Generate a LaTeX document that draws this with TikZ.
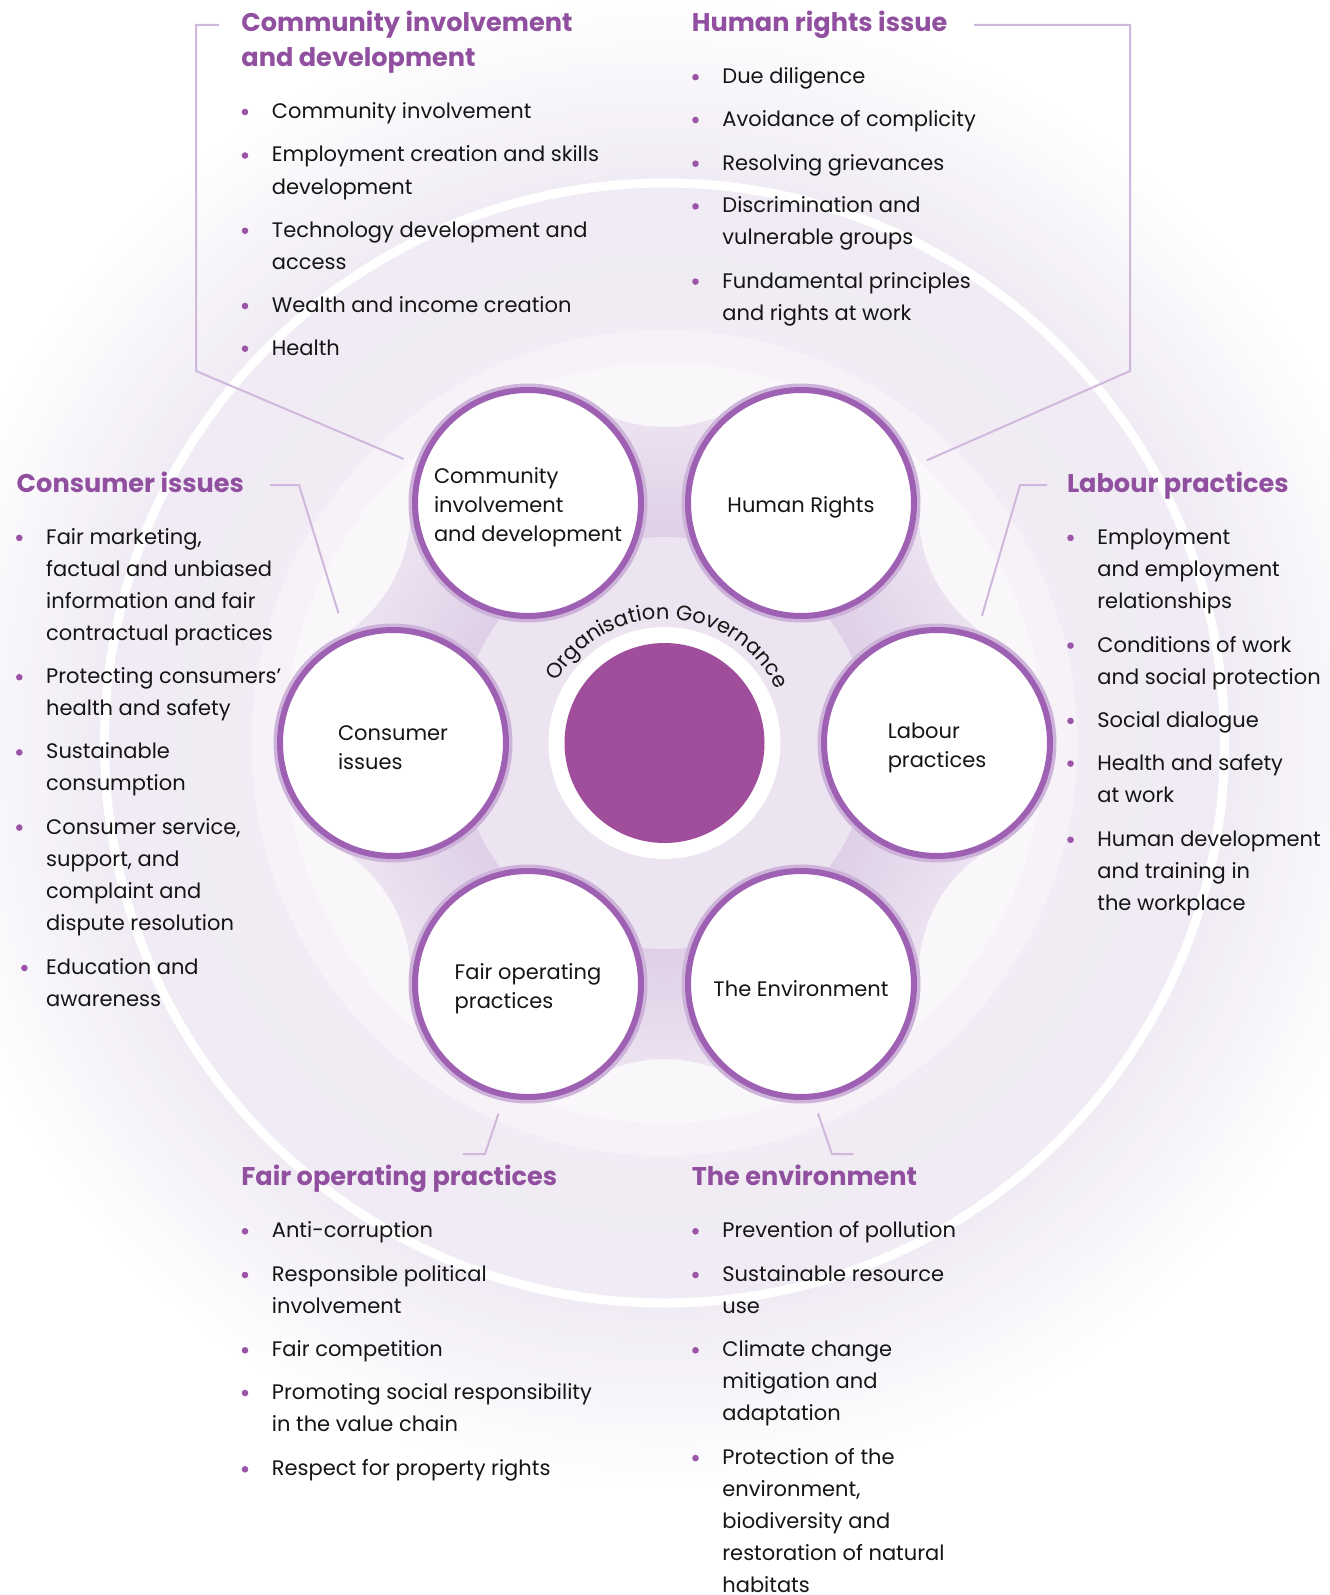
\documentclass[tikz,border=0pt]{standalone}
\usepackage{fontspec}
\setmainfont{Poppins}
\usetikzlibrary{decorations.text,calc}
\definecolor{headc}{HTML}{91509F}
\definecolor{bulletc}{HTML}{9A55A6}
\definecolor{textc}{HTML}{151515}
\definecolor{connc}{HTML}{D0B8DC}
\definecolor{discc}{HTML}{A04E9C}
\definecolor{ringc}{HTML}{9E60B2}
\definecolor{haloc}{HTML}{CDB3D9}
\definecolor{glowc}{HTML}{F0EBF4}
\definecolor{glowin}{HTML}{F3EFF6}
\definecolor{bandA}{HTML}{F6F2F8}
\definecolor{bandB}{HTML}{F9F7FA}
\definecolor{blobin}{HTML}{DFCFE7}
\definecolor{blobout}{HTML}{EEE6F2}
\definecolor{centerc}{HTML}{ECE4F0}
\pgfdeclareradialshading{glowshade}{\pgfpoint{0bp}{0bp}}{color(0bp)=(glowin); color(18bp)=(glowc); color(24bp)=(white); color(25bp)=(white); color(50bp)=(white)}
\pgfdeclareradialshading{blobshade}{\pgfpoint{0bp}{0bp}}{color(0bp)=(blobin); color(15bp)=(blobin); color(25bp)=(blobout); color(50bp)=(blobout)}
\newcommand{\li}[4]{%
  \fill[bulletc] (#2-26.5,#3-4) circle (3.3);
  \node[item] (#1) at (#2,#3-20) {\rule{0pt}{11pt}#4};}
\newcommand{\tstrut}{\rule{0pt}{12.5pt}}
\begin{document}
\begin{tikzpicture}[x=0.5pt,y=-0.5pt,
  item/.style={anchor=north west, inner sep=0pt, align=left, text=textc, font=\fontsize{10.5}{16.05}\selectfont},
  head/.style={anchor=north west, inner sep=0pt, align=left, text=headc, font=\bfseries\fontsize{12.8}{17.25}\selectfont},
  topic/.style={circle, minimum size=113pt, inner sep=0pt, fill=white, draw=ringc, line width=3pt,
    preaction={draw=haloc, line width=6.5pt}, align=left, text=textc, font=\fontsize{10.5}{14.5}\selectfont},
  conn/.style={draw=connc, line width=1pt}]
\useasboundingbox (0,0) rectangle (1329,1595);
\fill[white] (0,0) rectangle (1329,1595);
\coordinate (C) at (664.5,743);
% background glow and bands
\shade[shading=glowshade] (C) circle (780);
\fill[bandA] (C) circle (413);
\fill[bandB] (C) circle (380);
\draw[white, line width=4.5pt] (C) circle (560);
% blob joining the circles
\begin{scope}[even odd rule]
  \clip (-200,-200) rectangle (1600,1800)
    (664.5,282) circle (145) (664.5,1204) circle (145)
    (1063.7,512.5) circle (145) (265.3,512.5) circle (145)
    (1063.7,973.5) circle (145) (265.3,973.5) circle (145);
  \shade[shading=blobshade] (C) circle (345);
\end{scope}
\fill[centerc] (C) circle (206);
% topic circles
\node[topic] (comm) at (528,503) {\tstrut Community\\involvement\\and development};
\node[topic] (hr) at (801,503) {\tstrut Human Rights};
\node[topic] (cons) at (393,743) {\tstrut Consumer\\issues};
\node[topic] (lab) at (937,743) {\tstrut Labour\\practices};
\node[topic] (fair) at (528,984) {\tstrut Fair operating\\practices};
\node[topic] (env) at (801,984) {\tstrut The Environment};
% centre
\fill[white] (C) circle (116);
\node[circle, fill=discc, minimum size=100pt, inner sep=0pt] (gov) at (C) {};
\path[decorate, decoration={text along path, text align=center,
  text={|\fontsize{10.5}{11}\selectfont\color{textc}|Organisation Governance}}]
  (C) ++(-178:124) arc[start angle=-178, end angle=2, radius=124];
% connectors
\coordinate (kcomm) at (196,371); \coordinate (ecomm) at (219,25);
\coordinate (khr) at (1130,371); \coordinate (ehr) at (974,25);
\coordinate (kcons) at (299,485); \coordinate (econs) at (270,485);
\coordinate (klab) at (1020,485); \coordinate (elab) at (1047,485);
\coordinate (kfair) at (485,1154); \coordinate (efair) at (463,1154);
\coordinate (kenv) at (832,1154); \coordinate (eenv) at (853,1154);
\draw[conn, shorten <=8pt] (comm.161.6) -- (kcomm) |- (ecomm);
\draw[conn, shorten <=8.5pt] (hr.18.3) -- (khr) |- (ehr);
\draw[conn, shorten <=12.5pt] (cons.114.6) -- (kcons) -- (econs);
\draw[conn, shorten <=9.5pt] (lab.70.2) -- (klab) -- (elab);
\draw[conn, shorten <=8.5pt] (fair.258) -- (kfair) -- (efair);
\draw[conn, shorten <=7.5pt] (env.276.1) -- (kenv) -- (eenv);
% headings
\node[head] (hcomm) at (241,7.4) {\rule{0pt}{12pt}Community involvement\\and development};
\node[head] (hhr) at (691.4,7.4) {\rule{0pt}{12pt}Human rights issue};
\node[head] (hcons) at (16.3,468) {\rule{0pt}{12pt}Consumer issues};
\node[head] (hlab) at (1066.6,468) {\rule{0pt}{12pt}Labour practices};
\node[head] (hfair) at (241,1161.4) {\rule{0pt}{12pt}Fair operating practices};
\node[head] (henv) at (691.4,1161.4) {\rule{0pt}{12pt}The environment};
% community list
\li{c1}{271.5}{116}{Community involvement}
\li{c2}{271.5}{159.5}{Employment creation and skills\\development}
\li{c3}{271.5}{234.8}{Technology development and\\access}
\li{c4}{271.5}{310}{Wealth and income creation}
\li{c5}{271.5}{352.7}{Health}
% human rights list
\li{h1}{722}{81.2}{Due diligence}
\li{h2}{722}{124}{Avoidance of complicity}
\li{h3}{722}{167.7}{Resolving grievances}
\li{h4}{722}{210.4}{Discrimination and\\vulnerable groups}
\li{h5}{722}{285.6}{Fundamental principles\\and rights at work}
% consumer list
\li{u1}{45.8}{541.9}{Fair marketing,\\factual and unbiased\\information and fair\\contractual practices}
\li{u2}{45.8}{681.2}{Protecting consumers’\\health and safety}
\li{u3}{45.8}{756.4}{Sustainable\\consumption}
\li{u4}{45.8}{831.6}{Consumer service,\\support, and\\complaint and\\dispute resolution}
\fill[bulletc] (24.4,968) circle (3.3);
\node[item] (u5) at (45.8,952) {\rule{0pt}{11pt}Education and\\awareness};
% labour list
\li{l1}{1097}{541.9}{Employment\\and employment\\relationships}
\li{l2}{1097}{649.6}{Conditions of work\\and social protection}
\li{l3}{1097}{724.9}{Social dialogue}
\li{l4}{1097}{767.6}{Health and safety\\at work}
\li{l5}{1097}{843.8}{Human development\\and training in\\the workplace}
% fair operating list
\li{f1}{271.5}{1235.3}{Anti-corruption}
\li{f2}{271.5}{1279}{Responsible political\\involvement}
\li{f3}{271.5}{1354.3}{Fair competition}
\li{f4}{271.5}{1397}{Promoting social responsibility\\in the value chain}
\li{f5}{271.5}{1473.3}{Respect for property rights}
% environment list
\li{e1}{722}{1235.3}{Prevention of pollution}
\li{e2}{722}{1279}{Sustainable resource\\use}
\li{e3}{722}{1354.3}{Climate change\\mitigation and\\adaptation}
\li{e4}{722}{1462.1}{Protection of the\\environment,\\biodiversity and\\restoration of natural\\habitats}
\end{tikzpicture}
\end{document}
